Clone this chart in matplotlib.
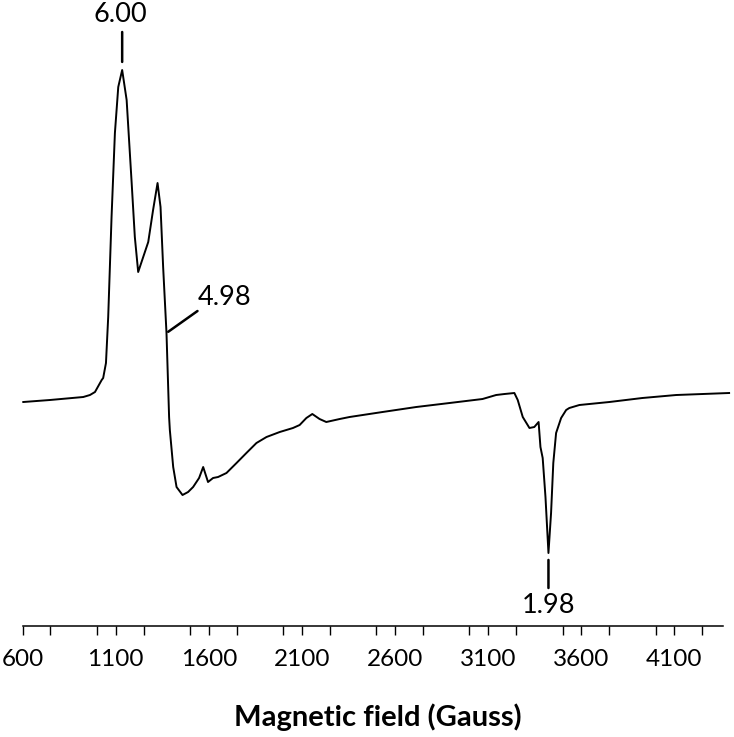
## EPR SPECTRUM: MAGNETIC FIELD SWEEP ##
import matplotlib.pyplot as plt
import matplotlib.ticker as tkr

## DATA ##
field = [604, 747, 926, 962, 989, 1025, 1033, 1048, 1060, 1078, 1096, 1114, 1135,
         1159, 1186, 1203, 1221, 1248, 1275, 1301, 1325, 1341, 1355, 1373, 1387,
         1391, 1409, 1427, 1459, 1489, 1516, 1548, 1570, 1596, 1623, 1650, 1695,
         1749, 1802, 1856, 1910, 1981, 2052, 2088, 2124, 2156, 2195, 2231, 2303,
         2356, 2533, 2714, 2893, 3070, 3143, 3188, 3241, 3259, 3286, 3322, 3348,
         3371, 3381, 3393, 3408, 3424, 3438, 3450, 3465, 3492, 3519, 3536, 3590,
         3751, 3928, 4110, 4394]
signal = [-2, 0, 3, 5, 8, 20, 22, 37, 83, 183, 267, 313, 330,
          300, 217, 163, 128, 143, 158, 190, 217, 193, 133, 67, -17,
          -30, -67, -87, -95, -92, -87, -78, -67, -82, -78, -77, -73,
          -63, -53, -43, -37, -32, -28, -25, -18, -14, -19, -22, -19,
          -17, -12, -7, -3, 1, 5, 6, 7, 0, -17, -28, -27,
          -22, -47, -58, -97, -153, -113, -63, -33, -18, -10, -8, -5,
          -2, 2, 5, 7]

# g-value labels: (field, signal) on the curve
g_labels = ["6.00", "4.98", "1.98"]
g_points = [(1135, 330), (1373, 67), (3424, -153)]

x_ticks = [600, 1100, 1600, 2100, 2600, 3100, 3600, 4100]

## FIGURE ##
plt.rcParams['font.family'] = ['Lato', 'DejaVu Sans']
fig = plt.figure(figsize=(7.34, 7.37), dpi=100)
ax = fig.add_axes([0.0307, 0.1506, 0.954, 0.8494])

ax.plot(field, signal, color='black', lw=1.4, clip_on=False)

ax.set_xlim(600, 4360)
ax.set_ylim(-226, 400)
for s in ['left', 'right', 'top']:
    ax.spines[s].set_visible(False)
ax.spines['bottom'].set_linewidth(1.1)
ax.set_yticks([])
ax.set_xticks(x_ticks)
ax.xaxis.set_minor_locator(tkr.MultipleLocator(250))
ax.tick_params(axis='x', which='both', length=6.5, width=1, direction='out')
ax.tick_params(axis='x', which='major', labelsize=17.5, pad=10)

fig.text(0.515, 1 - 717/737, "Magnetic field (Gauss)", ha='center', va='center',
         fontsize=21, fontweight='bold')

# label lines: far end offset (pixels) and gap at the curve (points)
line_ends = [(0, 38), (31, 22), (0, -35)]
line_gaps = [5.8, 1.5, 5.0]
text_offsets = [(-2, 56, 'center'), (31, 36, 'left'), (0, -52, 'center')]

for lab, (gx, gy), end, gap, (tx, ty, ha) in zip(g_labels, g_points, line_ends,
                                                  line_gaps, text_offsets):
    ax.annotate('', xy=(gx, gy), xycoords='data',
                xytext=end, textcoords='offset pixels',
                arrowprops=dict(arrowstyle='-', lw=1.8, color='black',
                                shrinkA=0, shrinkB=gap))
    ax.annotate(lab, xy=(gx, gy), xycoords='data', xytext=(tx, ty),
                textcoords='offset pixels', ha=ha, va='center', fontsize=19.5)

fig.savefig('out.png', dpi=100)
